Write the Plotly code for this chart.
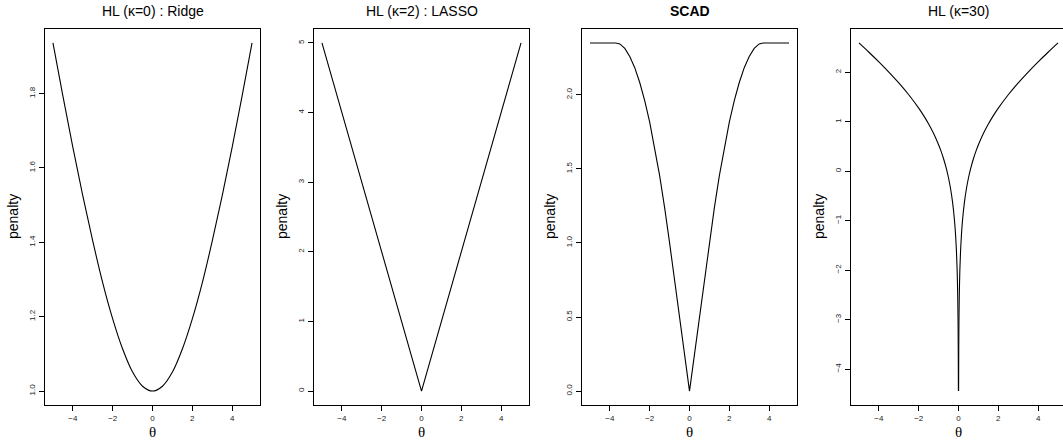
import plotly.graph_objects as go

W, H = 1063, 445

# ---------------- data ----------------
theta_ridge = [-5, -4.5, -4, -3.5, -3, -2.5, -2, -1.5, -1, -0.5, 0,
               0.5, 1, 1.5, 2, 2.5, 3, 3.5, 4, 4.5, 5]
pen_ridge = [1.936, 1.793, 1.655, 1.525, 1.403, 1.291, 1.194, 1.113, 1.051, 1.013, 1.000,
             1.013, 1.051, 1.113, 1.194, 1.291, 1.403, 1.525, 1.655, 1.793, 1.936]

theta_lasso = [-5, 0, 5]
pen_lasso = [5, 0, 5]

theta_scad = [-5, -4, -3.7, -3.5, -3.25, -3, -2.75, -2.5, -2.25, -2, -1.75, -1.5, -1.25, -1, 0,
              1, 1.25, 1.5, 1.75, 2, 2.25, 2.5, 2.75, 3, 3.25, 3.5, 3.7, 4, 5]
pen_scad = [2.35, 2.35, 2.35, 2.343, 2.313, 2.259, 2.183, 2.083, 1.961, 1.815, 1.646, 1.454, 1.238, 1.0, 0.0,
            1.0, 1.238, 1.454, 1.646, 1.815, 1.961, 2.083, 2.183, 2.259, 2.313, 2.343, 2.35, 2.35, 2.35]

# HL (kappa=30): left branch and right branch (cusp at 0)
theta_hl30_left = [-5, -4.5, -4, -3.5, -3, -2.5, -2, -1.75, -1.5, -1.25, -1, -0.9, -0.75, -0.6, -0.5,
                   -0.4, -0.3, -0.2, -0.15, -0.1, -0.07, -0.05, -0.03, -0.02, -0.01, -0.005]
pen_hl30_left = [2.591, 2.403, 2.208, 2.002, 1.782, 1.543, 1.273, 1.121, 0.952, 0.760, 0.533, 0.429, 0.250,
                 0.035, -0.139, -0.351, -0.622, -1.002, -1.271, -1.650, -1.983, -2.297, -2.774, -3.152,
                 -3.799, -4.446]
theta_hl30_right = [0.005, 0.01, 0.02, 0.03, 0.05, 0.07, 0.1, 0.15, 0.2, 0.3, 0.4,
                    0.5, 0.6, 0.75, 0.9, 1, 1.25, 1.5, 1.75, 2, 2.5, 3, 3.5, 4, 4.5, 5]
pen_hl30_right = [-4.446, -3.799, -3.152, -2.774, -2.297, -1.983, -1.650, -1.271, -1.002, -0.622, -0.351,
                  -0.139, 0.035, 0.250, 0.429, 0.533, 0.760, 0.952, 1.121, 1.273, 1.543, 1.782, 2.002,
                  2.208, 2.403, 2.591]

titles = ["HL (κ=0) : Ridge", "HL (κ=2) : LASSO", "<b>SCAD</b>", "HL (κ=30)"]
x_ticks = [-4, -2, 0, 2, 4]
y_ticks = [[1.0, 1.2, 1.4, 1.6, 1.8],
           [0, 1, 2, 3, 4, 5],
           [0.0, 0.5, 1.0, 1.5, 2.0],
           [-4, -3, -2, -1, 0, 1, 2]]
y_fmt = [".1f", "d", ".1f", "d"]
x_label = "θ"
y_label = "penalty"

panels = [[(theta_ridge, pen_ridge, "spline")],
          [(theta_lasso, pen_lasso, "linear")],
          [(theta_scad, pen_scad, "linear")],
          [(theta_hl30_left, pen_hl30_left, "spline"), (theta_hl30_right, pen_hl30_right, "spline")]]

# ---------------- layout geometry (pixels) ----------------
left_px = [45, 314, 582, 851]
plot_w = 215
top_px, bot_px = 29, 405

fig = go.Figure()
layout = dict(width=W, height=H, margin=dict(l=0, r=0, t=0, b=0),
              paper_bgcolor="white", plot_bgcolor="white", showlegend=False,
              font=dict(family="Liberation Sans, Arial, sans-serif", color="black"))
annotations = []

for i, traces in enumerate(panels):
    n = "" if i == 0 else str(i + 1)
    xa, ya = "x" + n, "y" + n
    all_y = []
    for xs, ys, shape in traces:
        all_y += ys
        fig.add_trace(go.Scatter(x=xs, y=ys, mode="lines", xaxis=xa, yaxis=ya,
                                 line=dict(color="black", width=1.1, shape=shape),
                                 hoverinfo="skip"))
    lo, hi = min(all_y), max(all_y)
    ext = 0.04 * (hi - lo)
    x0 = left_px[i] / W
    fits = (left_px[i] + plot_w) <= W
    x1 = (left_px[i] + plot_w) / W if fits else 1.0
    xr_hi = 5.4 if fits else -5.4 + 10.8 * (W - left_px[i]) / plot_w
    layout["xaxis" + n] = dict(domain=[x0, x1], range=[-5.4, xr_hi], anchor=ya,
                               tickvals=x_ticks, ticks="outside", ticklen=5, tickcolor="black",
                               showline=True, linecolor="black", linewidth=1, mirror=True,
                               showgrid=False, zeroline=False,
                               tickfont=dict(size=8, color="#222"))
    layout["yaxis" + n] = dict(domain=[(H - bot_px) / H, (H - top_px) / H], range=[lo - ext, hi + ext],
                               anchor=xa, tickvals=y_ticks[i], tickformat=y_fmt[i], tickangle=-90,
                               ticks="outside", ticklen=5, tickcolor="black", ticklabelstandoff=1,
                               showline=True, linecolor="black", linewidth=1,
                               mirror=fits, showgrid=False, zeroline=False,
                               tickfont=dict(size=8, color="#222"))
    cx = left_px[i] + plot_w / 2
    annotations.append(dict(text=titles[i], x=cx / W, y=(H - 11) / H, xref="paper", yref="paper",
                            xanchor="center", yanchor="middle", showarrow=False,
                            font=dict(size=14, color="black")))
    annotations.append(dict(text=x_label, x=cx / W, y=(H - 432) / H, xref="paper", yref="paper",
                            xanchor="center", yanchor="middle", showarrow=False,
                            font=dict(size=15, family="Liberation Serif, serif", color="black")))
    annotations.append(dict(text=y_label, x=(left_px[i] - 32) / W, y=(H - (top_px + bot_px) / 2) / H,
                            xref="paper", yref="paper", textangle=-90,
                            xanchor="center", yanchor="middle", showarrow=False,
                            font=dict(size=14, color="black")))

layout["annotations"] = annotations
fig.update_layout(**layout)
fig.write_html("out.html", config={"displayModeBar": False},
               post_script="document.body.style.margin='0px';document.body.style.overflow='hidden';")
